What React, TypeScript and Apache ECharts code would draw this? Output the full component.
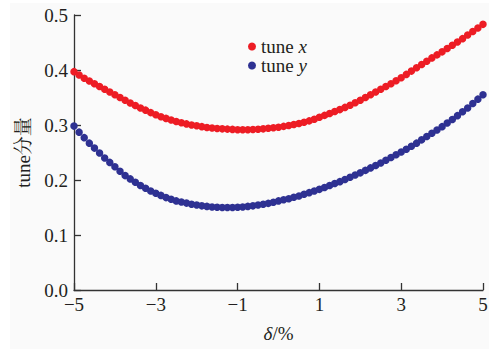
import React, { useEffect, useRef } from "react";
import * as echarts from "echarts";

const deltas = [
  -5, -4.875, -4.75, -4.625, -4.5, -4.375, -4.25, -4.125, -4, -3.875, -3.75, -3.625, -3.5, -3.375, -3.25, -3.125,
  -3, -2.875, -2.75, -2.625, -2.5, -2.375, -2.25, -2.125, -2, -1.875, -1.75, -1.625, -1.5, -1.375, -1.25, -1.125,
  -1, -0.875, -0.75, -0.625, -0.5, -0.375, -0.25, -0.125, 0, 0.125, 0.25, 0.375, 0.5, 0.625, 0.75, 0.875,
  1, 1.125, 1.25, 1.375, 1.5, 1.625, 1.75, 1.875, 2, 2.125, 2.25, 2.375, 2.5, 2.625, 2.75, 2.875,
  3, 3.125, 3.25, 3.375, 3.5, 3.625, 3.75, 3.875, 4, 4.125, 4.25, 4.375, 4.5, 4.625, 4.75, 4.875, 5,
];

const tuneX = [
  0.397, 0.391, 0.385, 0.38, 0.375, 0.37, 0.365, 0.36, 0.355, 0.35, 0.345, 0.34, 0.3355, 0.331, 0.327, 0.3225,
  0.3185, 0.315, 0.312, 0.309, 0.3065, 0.304, 0.302, 0.3, 0.2985, 0.297, 0.2955, 0.2945, 0.2935, 0.293, 0.2925, 0.292,
  0.2915, 0.2915, 0.2915, 0.2918, 0.2922, 0.293, 0.294, 0.295, 0.296, 0.2975, 0.299, 0.3008, 0.3027, 0.305, 0.3075, 0.3105,
  0.314, 0.3175, 0.321, 0.3245, 0.328, 0.332, 0.336, 0.3405, 0.345, 0.35, 0.355, 0.36, 0.365, 0.37, 0.375, 0.3805,
  0.386, 0.392, 0.398, 0.404, 0.41, 0.416, 0.422, 0.4275, 0.433, 0.439, 0.445, 0.451, 0.457, 0.4635, 0.47, 0.4765, 0.483,
];

const tuneY = [
  0.298, 0.287, 0.277, 0.267, 0.258, 0.249, 0.24, 0.232, 0.224, 0.216, 0.208, 0.202, 0.196, 0.19, 0.185, 0.18,
  0.176, 0.172, 0.168, 0.165, 0.162, 0.16, 0.158, 0.156, 0.1545, 0.153, 0.152, 0.151, 0.1505, 0.15, 0.15, 0.15,
  0.1505, 0.151, 0.152, 0.153, 0.1545, 0.156, 0.1575, 0.1595, 0.162, 0.164, 0.166, 0.1685, 0.171, 0.174, 0.177, 0.18,
  0.183, 0.1865, 0.19, 0.1935, 0.197, 0.201, 0.205, 0.209, 0.213, 0.2175, 0.222, 0.2265, 0.231, 0.236, 0.241, 0.246,
  0.251, 0.256, 0.2615, 0.267, 0.273, 0.279, 0.285, 0.291, 0.297, 0.3035, 0.31, 0.317, 0.324, 0.331, 0.339, 0.347, 0.355,
];

const xTicks = [-5, -3, -1, 1, 3, 5];
const seriesNames = ["tune x", "tune y"];
const yAxisName = "tune分量";

const FONT = '"Liberation Serif", "Times New Roman", "Noto Serif CJK SC", "Noto Sans CJK SC", serif';
const AXIS_COLOR = "#333333";
const TEXT_COLOR = "#231f20";

export default function App() {
  const ref = useRef<HTMLDivElement>(null);
  useEffect(() => {
    if (!ref.current) return;
    const chart = echarts.init(ref.current, undefined, { renderer: "svg" });
    const fmtX = (v: number) => (v < 0 ? "\u2212" + Math.abs(v) : String(v));
    chart.setOption({
      animation: false,
      backgroundColor: "#ffffff",
      graphic: [
        { type: "rect", shape: { x: 10, y: 3, width: 479, height: 346 }, style: { fill: "#fafafa" }, z: -10, silent: true },
      ],
      grid: { left: 74, right: 16, top: 15, bottom: 59, containLabel: false },
      legend: {
        orient: "vertical",
        left: 243,
        top: 32,
        itemWidth: 8,
        itemHeight: 8,
        itemGap: 0,
        icon: "circle",
        data: seriesNames,
        formatter: (name: string) => (name === "tune x" ? "tune {i|x}" : "tune {i|y}"),
        textStyle: {
          fontFamily: FONT,
          fontSize: 19,
          color: TEXT_COLOR,
          lineHeight: 19,
          rich: { i: { fontFamily: FONT, fontSize: 19, fontStyle: "italic", color: TEXT_COLOR, lineHeight: 19 } },
        },
      },
      xAxis: {
        type: "value",
        min: -5,
        max: 5,
        name: "{i|δ}/%",
        nameLocation: "middle",
        nameGap: 34,
        nameTextStyle: {
          fontFamily: FONT,
          fontSize: 19,
          color: TEXT_COLOR,
          rich: { i: { fontFamily: FONT, fontSize: 19, fontStyle: "italic", color: TEXT_COLOR } },
        },
        axisLine: { show: true, onZero: false, lineStyle: { color: AXIS_COLOR, width: 1.3 } },
        axisTick: { show: true, inside: true, length: 7, customValues: xTicks, lineStyle: { color: AXIS_COLOR, width: 1.3 } },
        axisLabel: {
          customValues: xTicks,
          formatter: fmtX,
          fontFamily: FONT,
          fontSize: 19,
          color: TEXT_COLOR,
          margin: 5,
        },
        splitLine: { show: false },
      },
      yAxis: {
        type: "value",
        min: 0,
        max: 0.5,
        interval: 0.1,
        name: yAxisName,
        nameLocation: "middle",
        nameGap: 41,
        nameTextStyle: { fontFamily: FONT, fontSize: 19, color: TEXT_COLOR },
        axisLine: { show: true, onZero: false, lineStyle: { color: AXIS_COLOR, width: 1.3 } },
        axisTick: { show: true, inside: true, length: 7, lineStyle: { color: AXIS_COLOR, width: 1.3 } },
        axisLabel: {
          formatter: (v: number) => v.toFixed(1),
          fontFamily: FONT,
          fontSize: 19,
          color: TEXT_COLOR,
          margin: 6,
        },
        splitLine: { show: false },
      },
      series: [
        {
          name: seriesNames[0],
          type: "scatter",
          symbol: "circle",
          symbolSize: 7.5,
          itemStyle: { color: "#ed1c24", opacity: 1 },
          data: deltas.map((d, i) => [d, tuneX[i]]),
        },
        {
          name: seriesNames[1],
          type: "scatter",
          symbol: "circle",
          symbolSize: 7.5,
          itemStyle: { color: "#2e3192", opacity: 1 },
          data: deltas.map((d, i) => [d, tuneY[i]]),
        },
      ],
    });
    return () => chart.dispose();
  }, []);
  return <div ref={ref} style={{ position: "absolute", left: 0, top: 0, width: 499, height: 349 }} />;
}
